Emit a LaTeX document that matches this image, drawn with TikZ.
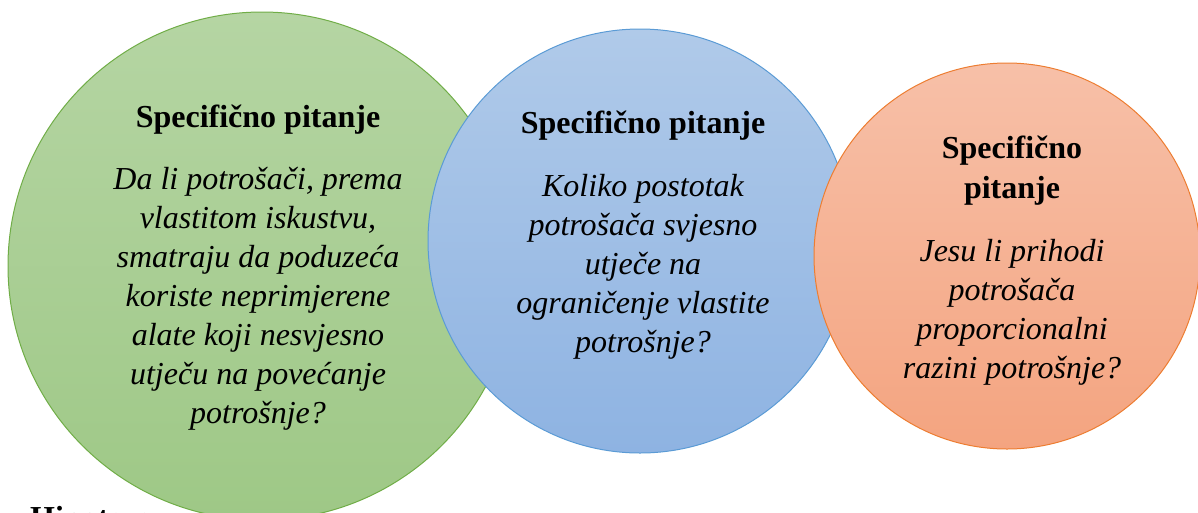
\documentclass[tikz,border=0pt]{standalone}
\usepackage{fontspec}
\setmainfont{Liberation Serif}
\usepackage{tikz}
\usetikzlibrary{shapes}
\usetikzlibrary{arrows}
\definecolor{greenline}{HTML}{70AD47}
\definecolor{greentop}{HTML}{B5D5A3}
\definecolor{greenbot}{HTML}{9EC886}
\definecolor{blueline}{HTML}{5B9BD5}
\definecolor{bluetop}{HTML}{B0CAE9}
\definecolor{bluebot}{HTML}{8EB3E2}
\definecolor{orangeline}{HTML}{ED7D31}
\definecolor{orangetop}{HTML}{F7C0A8}
\definecolor{orangebot}{HTML}{F4A480}
\tikzset{
	main node/.style={circle,draw,line width=1pt,inner sep=0pt},
	head/.style={font=\fontsize{32}{40}\selectfont\bfseries,align=center,inner sep=0pt},
	question/.style={font=\fontsize{32}{39}\selectfont\itshape,align=center,inner sep=0pt}
}

\begin{document}
\begin{tikzpicture}[x=1pt,y=-1pt]
	    \useasboundingbox (0,0) rectangle (1198,512);
	    % circles
	    \node [main node,draw=greenline,top color=greentop,bottom color=greenbot,minimum size=508pt] (q1) at (262,266) {};
	    \node [main node,draw=blueline,top color=bluetop,bottom color=bluebot,minimum size=424pt] (q2) at (640,241) {};
	    \node [main node,draw=orangeline,top color=orangetop,bottom color=orangebot,minimum size=386pt] (q3) at (1007,256) {};
	    % texts
	    \node [head] (h1) at (258,120) {Specifično pitanje};
	    \node [question] (t1) at (258,299) {Da li potrošači, prema\\vlastitom iskustvu,\\smatraju da poduzeća\\koriste neprimjerene\\alate koji nesvjesno\\utječu na povećanje\\potrošnje?};
	    \node [head] (h2) at (643,126) {Specifično pitanje};
	    \node [question] (t2) at (643,267) {Koliko postotak\\potrošača svjesno\\utječe na\\ograničenje vlastite\\potrošnje?};
	    \node [head] (h3) at (1012,171) {Specifično\\pitanje};
	    \node [question] (t3) at (1012,312) {Jesu li prihodi\\potrošača\\proporcionalni\\razini potrošnje?};
	    \node [head,anchor=base west] (hyp) at (30,528) {Hipoteze};
	  \end{tikzpicture}
\end{document}
